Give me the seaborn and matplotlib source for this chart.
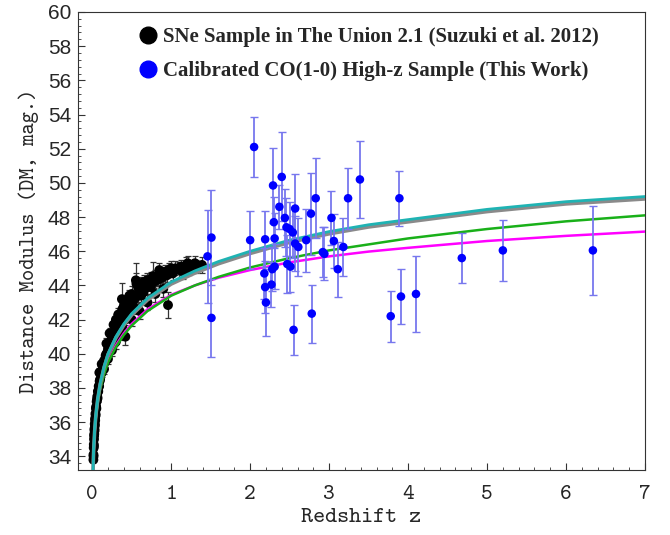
import numpy as np
import pandas as pd
import matplotlib
matplotlib.use("Agg")
import matplotlib.pyplot as plt
from matplotlib.lines import Line2D
from matplotlib.ticker import MultipleLocator
import seaborn as sns

# SNe Ia (Union 2.1) points
sne_z = [
    0.015, 0.016, 0.017, 0.019, 0.020, 0.021, 0.023, 0.024, 0.026, 0.028,
    0.030, 0.032, 0.034, 0.036, 0.038, 0.041, 0.044, 0.047, 0.050, 0.053,
    0.056, 0.060, 0.064, 0.068, 0.072, 0.077, 0.082, 0.088, 0.094, 0.100,
    0.110, 0.120, 0.130, 0.140, 0.150, 0.150, 0.160, 0.170, 0.180, 0.190,
    0.200, 0.210, 0.220, 0.230, 0.240, 0.250, 0.250, 0.260, 0.270, 0.280,
    0.300, 0.300, 0.300, 0.310, 0.320, 0.330, 0.340, 0.350, 0.350, 0.360,
    0.376, 0.380, 0.400, 0.400, 0.420, 0.420, 0.440, 0.450, 0.450, 0.460,
    0.480, 0.500, 0.500, 0.500, 0.520, 0.530, 0.550, 0.553, 0.560, 0.580,
    0.600, 0.600, 0.600, 0.620, 0.640, 0.650, 0.650, 0.670, 0.700, 0.700,
    0.700, 0.720, 0.740, 0.750, 0.770, 0.780, 0.800, 0.800, 0.820, 0.840,
    0.850, 0.860, 0.880, 0.900, 0.900, 0.920, 0.950, 0.960, 0.970, 1.000,
    1.020, 1.050, 1.100, 1.120, 1.150, 1.190, 1.210, 1.230, 1.300, 1.320,
    1.390,
    0.180, 0.220, 0.270, 0.330, 0.380, 0.430, 0.120, 0.090, 0.580, 0.620,
    0.470, 0.280, 0.200, 0.380]
sne_dm = [
    33.8, 34.1, 34.0, 34.5, 34.7, 34.6, 35.0, 35.2, 35.3, 35.6,
    35.5, 35.9, 35.8, 36.2, 36.1, 36.5, 36.4, 36.8, 36.9, 36.8,
    37.2, 37.3, 37.5, 37.4, 37.8, 37.8, 38.1, 38.1, 38.4, 38.5,
    38.8, 38.9, 39.3, 39.3, 39.6, 39.1, 39.5, 39.9, 40.0, 40.0,
    40.3, 40.2, 40.6, 40.5, 40.8, 40.7, 40.2, 41.1, 41.0, 41.3,
    41.4, 40.7, 42.0, 41.6, 41.3, 41.8, 41.6, 42.0, 41.2, 41.9,
    43.2, 42.1, 42.3, 42.8, 42.0, 41.0, 42.5, 42.2, 43.0, 42.8,
    42.6, 42.9, 42.0, 43.5, 43.1, 42.7, 43.3, 44.3, 44.1, 43.4,
    43.7, 42.5, 43.9, 43.4, 43.9, 43.6, 44.2, 44.0, 43.9, 43.0,
    44.3, 44.2, 43.9, 44.4, 44.55, 44.2, 44.5, 43.5, 44.3, 44.6,
    44.9, 44.4, 44.7, 44.5, 43.8, 44.8, 44.6, 42.85, 44.9, 45.0,
    44.7, 45.0, 44.9, 45.1, 44.8, 45.2, 45.3, 45.0, 45.3, 45.1,
    45.2,
    40.6, 41.2, 41.7, 42.3, 42.6, 43.0, 39.4, 38.9, 43.9, 44.1,
    43.4, 40.6, 39.7, 41.6]
sne_err = [
    0.15, 0.15, 0.15, 0.15, 0.15, 0.15, 0.15, 0.15, 0.15, 0.15,
    0.15, 0.15, 0.15, 0.15, 0.15, 0.15, 0.15, 0.2, 0.15, 0.2,
    0.2, 0.2, 0.2, 0.2, 0.2, 0.2, 0.2, 0.2, 0.2, 0.2,
    0.2, 0.25, 0.2, 0.25, 0.2, 0.3, 0.25, 0.25, 0.3, 0.25,
    0.25, 0.3, 0.25, 0.3, 0.3, 0.3, 0.35, 0.3, 0.3, 0.3,
    0.3, 0.4, 0.35, 0.3, 0.3, 0.35, 0.3, 0.35, 0.4, 0.3,
    0.94, 0.3, 0.35, 0.4, 0.3, 0.5, 0.35, 0.3, 0.4, 0.35,
    0.3, 0.35, 0.4, 0.45, 0.35, 0.35, 0.4, 1.0, 0.6, 0.35,
    0.35, 0.45, 0.4, 0.35, 0.4, 0.35, 0.4, 0.35, 0.4, 0.45,
    0.4, 0.35, 0.4, 0.4, 0.84, 0.35, 0.4, 0.45, 0.35, 0.4,
    0.4, 0.35, 0.4, 0.35, 0.45, 0.4, 0.4, 0.75, 0.4, 0.45,
    0.4, 0.4, 0.45, 0.4, 0.4, 0.45, 0.4, 0.4, 0.45, 0.4,
    0.45,
    0.3, 0.3, 0.3, 0.35, 0.35, 0.35, 0.25, 0.25, 0.4, 0.4,
    0.35, 0.3, 0.3, 0.35]

# calibrated CO(1-0) high-z sample
co_z = [1.46, 1.51, 1.51, 2.05, 2.00, 2.19, 2.18, 2.19, 2.20, 2.29,
        2.40, 2.37, 2.30, 2.31, 2.31, 2.28, 2.27, 2.44, 2.46, 2.50,
        2.54, 2.57, 2.57, 2.61, 2.47, 2.51, 2.55, 2.71, 2.77, 2.83,
        2.78, 2.92, 2.94, 3.03, 3.06, 3.11, 3.18, 3.24, 3.39, 3.78,
        3.89, 3.91, 4.10, 4.68, 5.20, 6.34]
co_dm = [45.7, 46.8, 42.1, 52.1, 46.65, 46.7, 44.7, 43.9, 43.0, 49.85,
         50.35, 48.6, 47.7, 46.75, 45.1, 44.95, 44.05, 47.95, 47.4, 47.3,
         47.1, 48.5, 46.45, 46.25, 45.25, 45.1, 41.4, 46.65, 48.2, 49.1,
         42.35, 45.95, 45.85, 47.95, 46.6, 44.95, 46.25, 49.1, 50.2, 42.2,
         49.1, 43.35, 43.5, 45.6, 46.05, 46.05]
co_err = [2.7, 2.8, 2.3, 1.75, 1.7, 1.65, 1.5, 1.5, 1.95, 2.2,
          2.6, 1.3, 1.5, 1.5, 1.3, 1.3, 1.3, 1.7, 1.7, 1.6,
          1.5, 2.0, 1.6, 1.7, 1.7, 1.5, 1.45, 1.85, 2.4, 2.35,
          1.7, 1.45, 1.55, 1.6, 1.6, 1.6, 1.7, 1.8, 2.25, 1.5,
          1.6, 1.6, 2.2, 1.45, 1.8, 2.6]

# model curves
curve_z = [0.01, 0.015, 0.02, 0.03, 0.04, 0.05, 0.07, 0.1, 0.15, 0.2, 0.3, 0.4, 0.5,
           0.7, 1.0, 1.3, 1.6, 2.0, 2.5, 3.0, 3.5, 4.0, 5.0, 6.0, 7.0]
curve_gray = [33.0, 33.9, 34.5, 35.4, 36.05, 36.55, 37.35, 38.2, 39.2, 39.95, 40.93, 41.67, 42.27,
              43.15, 44.08, 44.72, 45.27, 45.87, 46.52, 47.02, 47.42, 47.72, 48.32, 48.77, 49.06]
curve_cyan = [33.0, 33.9, 34.55, 35.45, 36.1, 36.6, 37.4, 38.25, 39.25, 40.0, 41.0, 41.75, 42.35,
              43.25, 44.2, 44.85, 45.4, 46.0, 46.65, 47.15, 47.55, 47.85, 48.45, 48.9, 49.2]
curve_green = [32.9, 33.8, 34.4, 35.3, 35.9, 36.4, 37.1, 37.9, 38.8, 39.5, 40.4, 41.1, 41.65,
               42.5, 43.4, 44.0, 44.5, 45.05, 45.6, 46.05, 46.4, 46.75, 47.3, 47.75, 48.1]
curve_magenta = [32.9, 33.8, 34.4, 35.3, 35.95, 36.45, 37.15, 37.95, 38.9, 39.6, 40.5, 41.2, 41.75,
                 42.6, 43.45, 44.0, 44.45, 44.9, 45.35, 45.7, 45.98, 46.2, 46.6, 46.9, 47.15]

sne = pd.DataFrame({"z": sne_z, "dm": sne_dm})
co = pd.DataFrame({"z": co_z, "dm": co_dm})
curves = pd.DataFrame({"z": curve_z, "gray": curve_gray, "cyan": curve_cyan,
                       "green": curve_green, "magenta": curve_magenta})

sns.set_style("ticks")
plt.rcParams["xtick.direction"] = "in"
plt.rcParams["ytick.direction"] = "in"

fig = plt.figure(figsize=(6.7, 5.35), dpi=100)
ax = fig.add_axes([0.1164, 0.1215, 0.8463, 0.8561])

# SNe
ax.errorbar(sne_z, sne_dm, yerr=sne_err, fmt="none", ecolor="#333333",
            elinewidth=0.9, capsize=2.5, capthick=0.9, zorder=1)
sns.scatterplot(data=sne, x="z", y="dm", color="black", s=50, edgecolor="none",
                ax=ax, zorder=2, legend=False)

# model curves
sns.lineplot(data=curves, x="z", y="magenta", color="#ff00ff", lw=1.8, ax=ax, zorder=3)
sns.lineplot(data=curves, x="z", y="green", color="#19b019", lw=1.8, ax=ax, zorder=3)
sns.lineplot(data=curves, x="z", y="gray", color="#8a8a8a", lw=2.6, ax=ax, zorder=3)
sns.lineplot(data=curves, x="z", y="cyan", color="#1fb3b3", lw=2.0, ax=ax, zorder=4)

# CO sample
ax.errorbar(co_z, co_dm, yerr=co_err, fmt="none", ecolor="#7777ee",
            elinewidth=1.3, capsize=3, capthick=1.0, zorder=5)
sns.scatterplot(data=co, x="z", y="dm", color="#0000ff", s=38, edgecolor="none",
                ax=ax, zorder=6, legend=False)

ax.set_xlim(-0.18, 7)
ax.set_ylim(33.2, 60)
ax.yaxis.set_major_locator(MultipleLocator(2))
ax.yaxis.set_minor_locator(MultipleLocator(0.4))
ax.xaxis.set_major_locator(MultipleLocator(1))
ax.xaxis.set_minor_locator(MultipleLocator(0.2))
ax.tick_params(which="major", length=5, width=0.8, color="#333333")
ax.tick_params(which="minor", length=2.5, width=0.6, color="#333333")
ax.tick_params(axis="y", labelsize=15, pad=5)
ax.tick_params(axis="x", labelsize=16, pad=11)
for lab in ax.get_yticklabels():
    lab.set_family("Liberation Sans")
for lab in ax.get_xticklabels():
    lab.set_family("cmtt10")
for s in ax.spines.values():
    s.set_linewidth(0.8)
    s.set_color("#333333")

ax.set_xlabel("Redshift z", family="cmtt10", fontsize=16.5, labelpad=3)
ax.set_ylabel("Distance Modulus (DM, mag.)", family="cmtt10", fontsize=15.5, labelpad=6)

handles = [
    Line2D([], [], marker="o", ls="none", color="black", markersize=12),
    Line2D([], [], marker="o", ls="none", color="#0000ff", markersize=12),
]
labels = ["SNe Sample in The Union 2.1 (Suzuki et al. 2012)",
          "Calibrated CO(1-0) High-z Sample (This Work)"]
ax.legend(handles, labels, loc="upper left", bbox_to_anchor=(0.0905, 0.985),
          borderaxespad=0, frameon=False, handlelength=1.0, handletextpad=0.22,
          labelspacing=0.66,
          prop={"family": "Liberation Serif", "weight": "bold", "size": 15})

fig.savefig("out.png", dpi=100)
